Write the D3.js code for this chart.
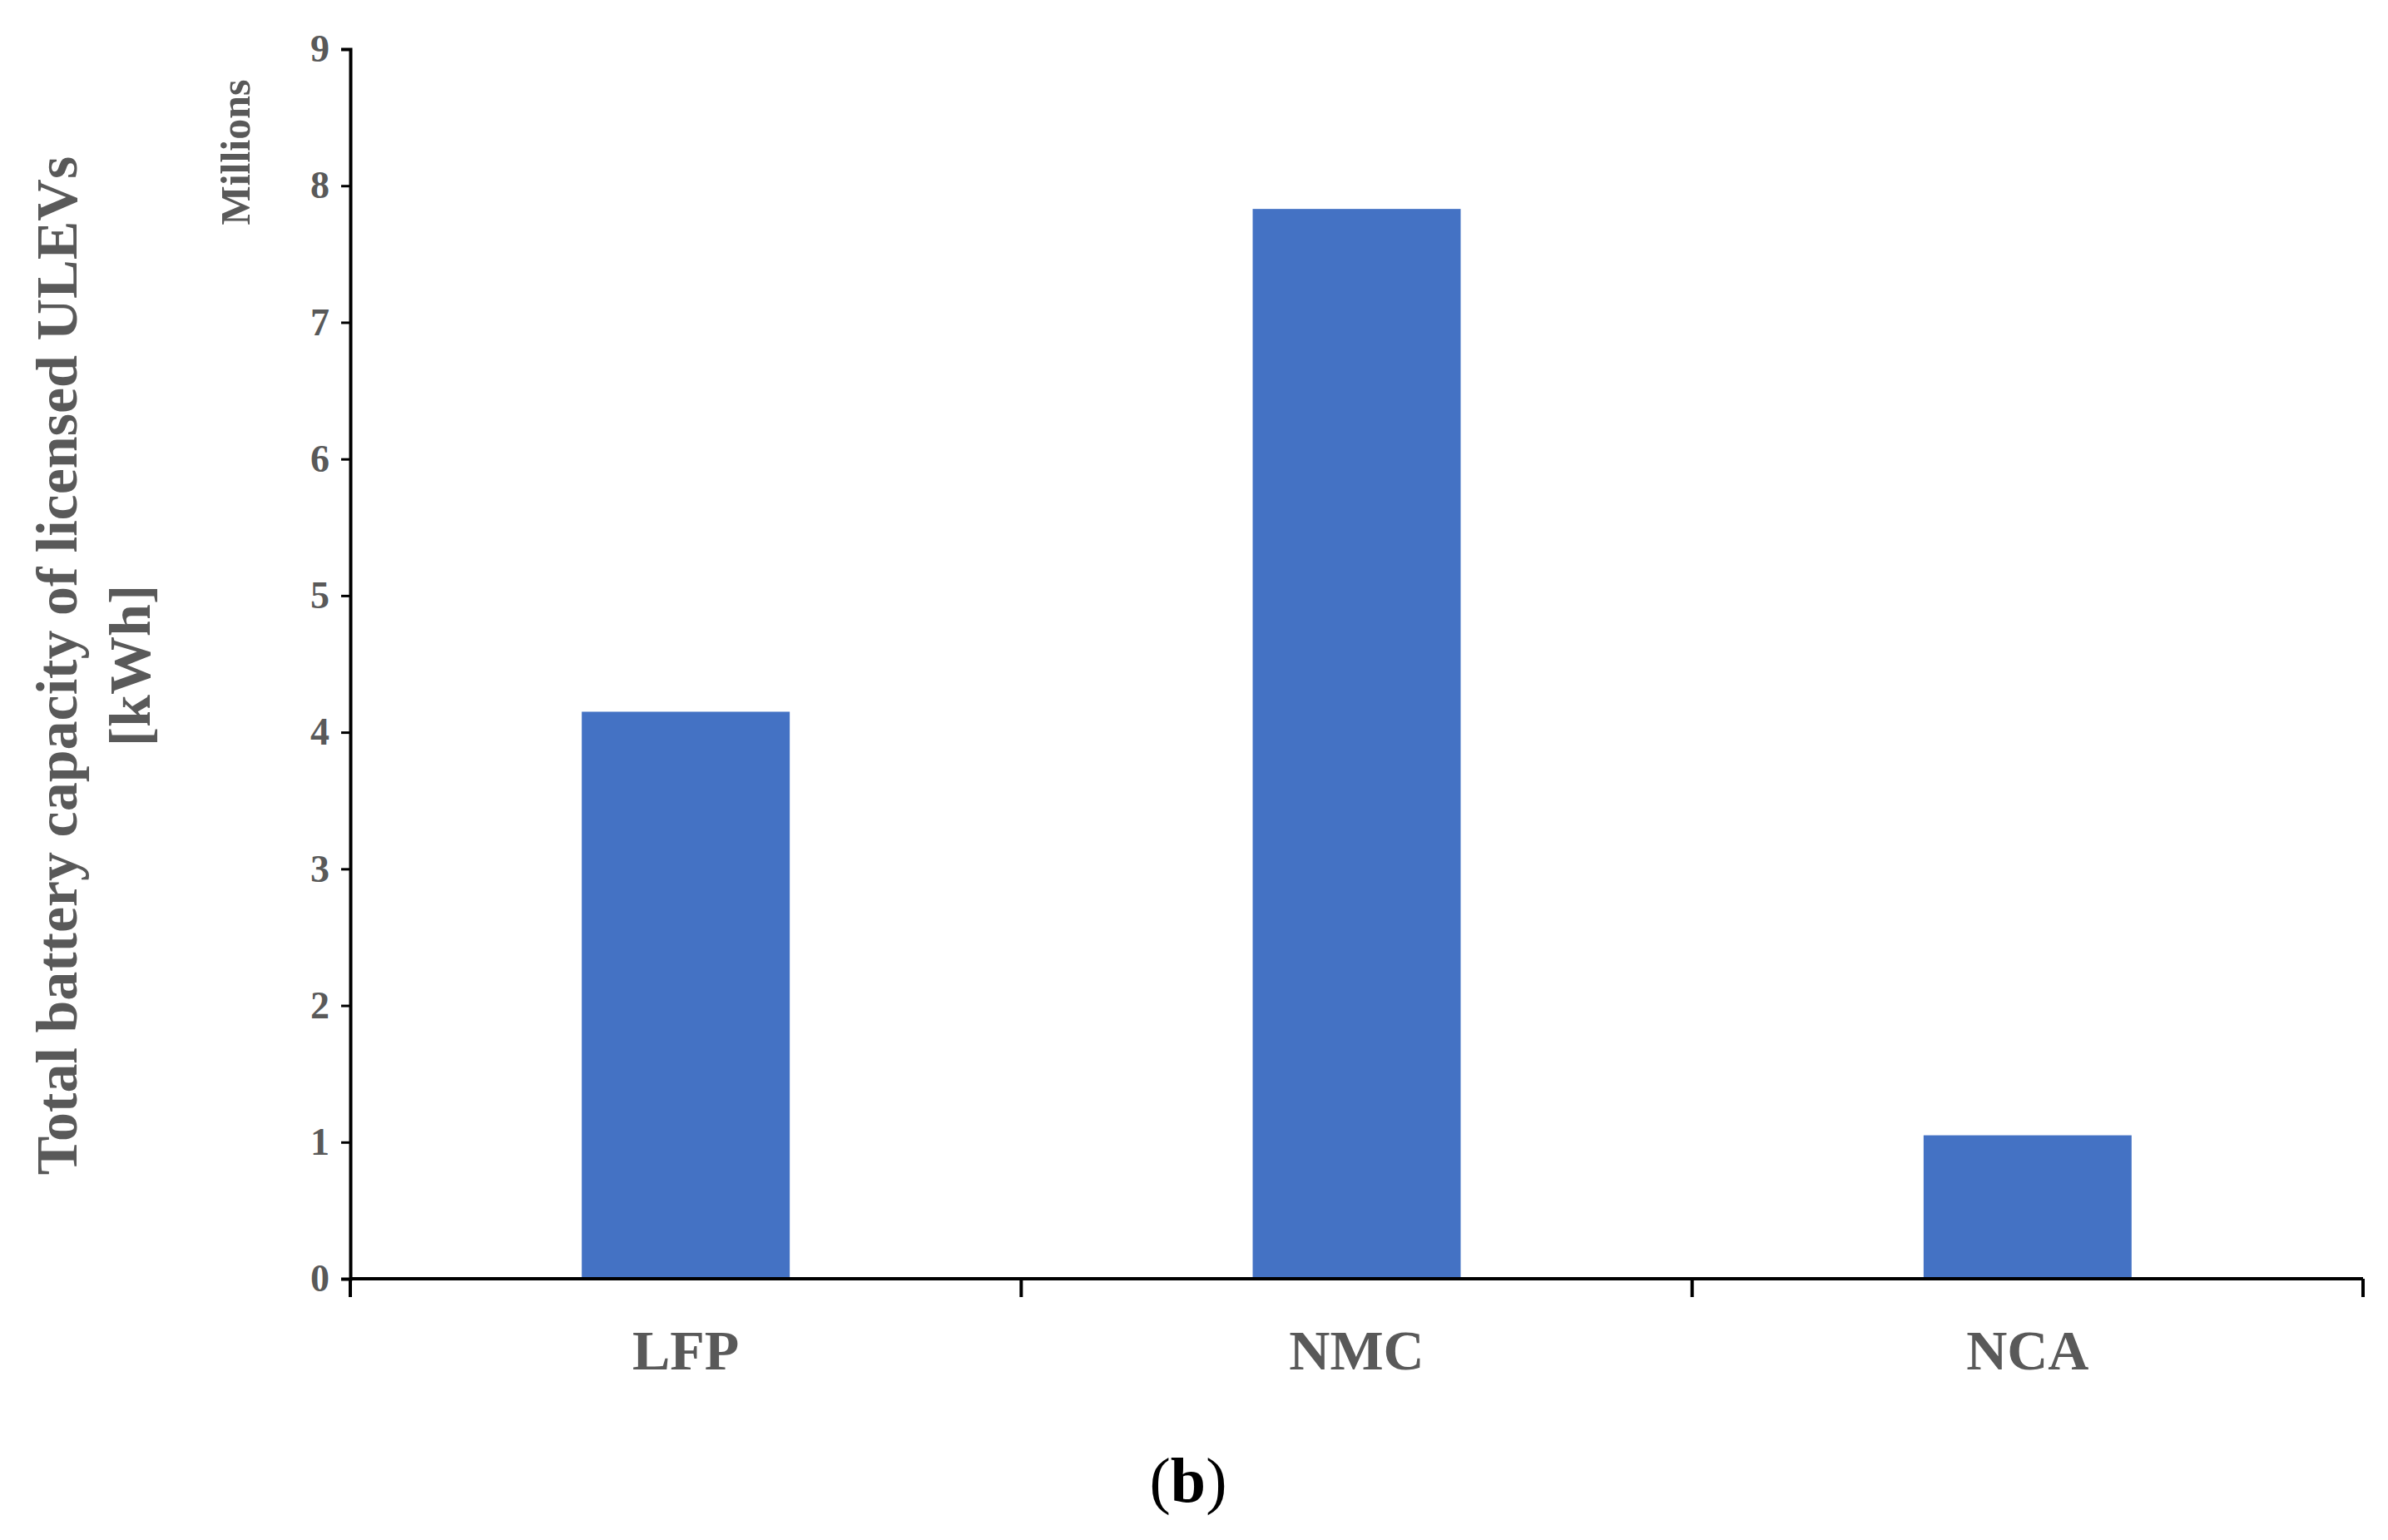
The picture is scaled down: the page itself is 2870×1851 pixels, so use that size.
<!DOCTYPE html>
<html><head><meta charset="utf-8">
<script src="https://cdn.jsdelivr.net/npm/d3@7"></script>
<style>body{margin:0;background:#fff}text{font-family:"Liberation Serif","Times New Roman",serif}</style>
</head><body><svg id="c" width="2870" height="1851"></svg>
<script>
var categories = ["LFP", "NMC", "NCA"];
var values = [4.15, 7.83, 1.05];
var yTicks = [0, 1, 2, 3, 4, 5, 6, 7, 8, 9];

var svg = d3.select("#c"),
    mLeft = 421, mRight = 2840, mTop = 59, mBottom = 1537;
var x = d3.scaleBand().domain(categories).range([mLeft, mRight]).paddingInner(0.69).paddingOuter(0.345);
var y = d3.scaleLinear().domain([0, 9]).range([mBottom, mTop]);

svg.selectAll("rect.bar").data(values).enter().append("rect")
    .attr("x", (d, i) => x(categories[i])).attr("width", x.bandwidth())
    .attr("y", d => y(d)).attr("height", d => y(0) - y(d)).attr("fill", "#4472c4");

var ya = svg.append("g").attr("transform", "translate(" + mLeft + ",0)")
    .call(d3.axisLeft(y).tickValues(yTicks).tickSize(11).tickPadding(14));
ya.select(".domain").attr("stroke", "#000").attr("stroke-width", 4);
ya.selectAll(".tick line").attr("stroke", "#000").attr("stroke-width", 3);
ya.selectAll("text").attr("font-size", 46).attr("font-weight", "bold").attr("fill", "#595959");

// x axis with ticks at band boundaries
svg.append("line").attr("x1", mLeft).attr("x2", mRight).attr("y1", mBottom).attr("y2", mBottom)
    .attr("stroke", "#000").attr("stroke-width", 4);
var step = x.step(), bounds = d3.range(categories.length + 1).map(i => mLeft + i * step);
svg.selectAll("line.xt").data(bounds).enter().append("line")
    .attr("x1", d => d).attr("x2", d => d).attr("y1", mBottom).attr("y2", mBottom + 22)
    .attr("stroke", "#000").attr("stroke-width", 4);
svg.selectAll("text.xl").data(categories).enter().append("text")
    .attr("x", d => x(d) + x.bandwidth() / 2).attr("y", 1646).attr("text-anchor", "middle")
    .attr("font-size", 68).attr("font-weight", "bold").attr("fill", "#595959").text(d => d);

var yt = svg.append("text").attr("transform", "translate(70,800) rotate(-90)")
    .attr("text-anchor", "middle").attr("font-size", 70).attr("font-weight", "bold").attr("fill", "#595959");
yt.append("tspan").attr("x", 0).attr("dy", 22).text("Total battery capacity of licensed ULEVs");
yt.append("tspan").attr("x", 0).attr("dy", 88).text("[kWh]");

svg.append("text").attr("transform", "translate(300,183) rotate(-90)")
    .attr("text-anchor", "middle").attr("font-size", 50).attr("font-weight", "bold").attr("fill", "#595959").text("Millions");

var b = svg.append("text").attr("x", 1428).attr("y", 1805).attr("text-anchor", "middle").attr("font-size", 76).attr("fill", "#000");
b.append("tspan").text("(");
b.append("tspan").attr("font-weight", "bold").text("b");
b.append("tspan").text(")");
</script></body></html>
